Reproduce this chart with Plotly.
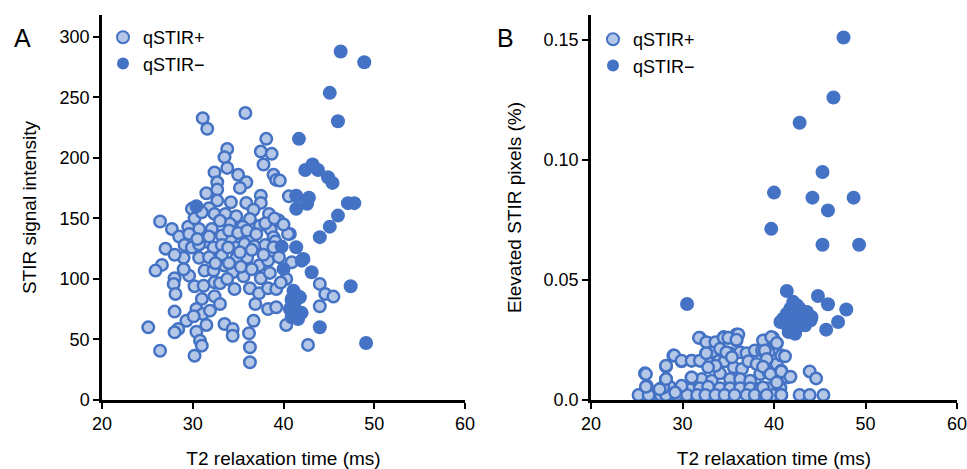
import plotly.graph_objects as go

# ---------------- Panel A data ----------------
a_pos_t2 = [31.1, 31.6, 35.8, 38.1, 37.5, 38.7, 33.8, 33.5, 37.8, 33.8, 32.4, 35.0, 35.9, 35.2, 38.9, 39.2,
            32.7, 32.7, 31.5, 37.5, 40.6, 29.9, 32.7, 34.2, 35.9, 37.5, 31.8, 32.4, 33.6, 34.8, 36.7, 38.4,
            39.5, 36.3, 34.1, 30.7, 29.5, 27.7, 26.4, 28.5, 29.6, 32.1, 35.5, 37.4, 38.6, 40.7, 34.2, 31.5,
            33.2, 36.3, 38.9,
            29.1, 29.9, 30.7, 32.3, 33.2, 34.8, 35.7, 36.8, 38.0, 39.1,
            29.0, 26.6, 30.7, 31.8, 33.2, 33.5, 34.8, 36.0, 37.3, 38.3, 38.9, 40.9, 40.3, 40.3, 40.9, 31.3,
            32.3, 29.6, 28.0, 27.9, 28.1, 30.2, 31.2, 32.4, 33.0, 34.4, 35.6, 34.6, 36.3, 37.3, 38.3, 39.2,
            37.5, 31.0, 32.4, 33.0, 36.9, 38.3, 39.2, 30.4, 31.1, 31.9, 28.0, 29.3, 30.1, 31.5, 28.4, 30.4,
            30.8, 31.0, 33.5, 34.4, 34.4, 36.7, 36.2, 36.3, 36.3, 30.2, 26.4, 42.7,
            25.9, 25.1, 28.0, 44.0, 44.6, 45.5, 44.0, 40.5, 39.6,
            30.2, 31.0, 33.0, 34.0, 35.0, 36.0, 37.0, 38.0, 39.0, 40.0, 30.5, 31.8, 33.9, 35.2, 36.5, 37.8,
            39.5, 32.5, 34.0, 35.3, 36.5, 38.5, 39.7, 33.8, 29.0, 27.0, 28.0]
a_pos_sig = [232.8, 224, 237, 215.7, 205.2, 203.3, 207.4, 200.6, 194.5, 191.7, 188, 186, 179.8, 175.2, 186, 181.8,
             179.8, 173.8, 170.8, 168.8, 168.3, 157.9, 164.7, 163.3, 162.8, 162.8, 158.4, 153.7, 153.7, 151.8, 157.2, 153.7,
             148.2, 149.6, 145.5, 141.3, 143.2, 141.3, 147.4, 135, 137.2, 141.3, 143.2, 144, 140.7, 137.2, 133.6, 130.8,
             135.8, 131.6, 134.5,
             128, 126, 128.5, 126, 128, 126, 129, 127, 128, 131,
             117.4, 111.6, 117.4, 117.9, 119.3, 111, 117.1, 117.4, 111, 115.1, 126.2, 113.8, 100, 62, 82.1, 106.9,
             106.9, 102.7, 100.6, 95.9, 87.6, 94, 94.4, 97.3, 96.4, 105.5, 102.2, 91.7, 92.3, 88.2, 92.3, 91.7,
             100.6, 83.5, 85.7, 79.3, 79.3, 75.2, 76.6, 75.2, 71.1, 73.8, 73, 65.5, 69.2, 62, 58.7, 56.4,
             49, 44.9, 62.8, 58.7, 53.1, 65.5, 55.1, 43.6, 31.2, 36.6, 40.7, 45.5,
             106.9, 60, 55.9, 95.9, 87.6, 85.4, 77.4, 137.2, 181.2,
             150, 155, 148, 140, 138, 140, 137, 146, 150, 145, 133, 135, 126, 122, 124, 120,
             118, 113, 113, 110, 108, 105, 97, 100, 108, 125, 120]

a_neg_t2 = [30.4, 41.7, 42.4, 43.2, 43.8, 44.9, 45.4, 41.4, 42.8, 42.6, 41.4, 47.1, 47.8, 46.0, 45.1, 44.0,
            41.4, 39.8, 42.0, 43.1, 40.0, 42.2, 41.1, 41.8, 40.9, 40.7, 40.9, 41.6, 41.6, 47.4, 44.0, 49.1,
            46.3, 48.9, 45.1, 46.0, 42.5, 41.2, 42.0]
a_neg_sig = [160, 215.7, 190, 194.5, 190, 184, 179.3, 168.8, 167, 162, 157.9, 162.6, 162.6, 152.3, 143.2, 134.5,
             126.2, 126.7, 115.1, 105.5, 108.3, 116.5, 90.3, 84.9, 83.5, 75.2, 68.3, 66.9, 85.7, 94, 60.1, 47.1,
             287.9, 279, 253.7, 230.3, 163.3, 80, 72]

# ---------------- Panel B data ----------------
b_pos_t2 = [31.9, 32.8, 33.7, 34.5, 35.0, 35.9, 35.9, 34.1, 33.2, 32.6, 35.2, 36.3, 37.0, 37.9, 38.7, 39.0,
            39.9, 40.3, 39.4, 40.8, 29.0, 29.9, 31.0, 31.9, 33.0, 33.9, 34.6, 35.6, 36.5, 37.2, 38.1, 39.2,
            40.3, 28.2, 25.9, 28.2, 31.0, 32.1, 33.2, 34.1, 35.2, 36.3, 37.4, 38.5, 39.4, 40.8, 41.4, 40.3,
            26.1, 27.7, 28.6, 29.9, 30.8, 31.9, 32.8, 34.1, 35.2, 36.3, 37.4, 38.5, 39.4, 40.7,
            25.4, 26.5, 27.6, 28.3, 29.4, 30.5, 31.6, 32.5, 33.6, 34.6, 35.7, 37.0, 37.9, 39.0, 39.9, 40.8,
            25.2, 26.3, 26.0, 26.0, 28.2, 27.9, 28.2, 28.2, 29.1, 29.9, 31.0, 31.8, 31.9, 32.6, 32.6, 33.6,
            34.5, 35.0, 36.1, 35.9, 34.1, 34.8, 35.4, 33.6, 32.8, 31.0, 29.9, 29.2, 27.5,
            38.8, 39.7, 40.3, 39.0, 39.2, 40.8, 41.2, 38.8, 39.6, 40.8, 41.8, 40.3, 43.9, 44.6, 38.8,
            39.2, 40.8, 42.8, 43.9, 45.4]
b_pos_pix = [0.0259, 0.0237, 0.0237, 0.0262, 0.0259, 0.0273, 0.0248, 0.0213, 0.0199, 0.0195, 0.0195, 0.0199, 0.0195, 0.0206, 0.0206, 0.0248,
             0.0259, 0.0237, 0.0199, 0.0185, 0.0185, 0.0161, 0.0164, 0.0164, 0.0153, 0.0161, 0.0161, 0.0136, 0.0129, 0.0161, 0.0150, 0.0167,
             0.0150, 0.0139, 0.0111, 0.0087, 0.0094, 0.0087, 0.0080, 0.0111, 0.0087, 0.0087, 0.0080, 0.0108, 0.0115, 0.0122, 0.0094, 0.0080,
             0.0059, 0.0049, 0.0055, 0.0055, 0.0045, 0.0049, 0.0055, 0.0049, 0.0049, 0.0049, 0.0049, 0.0049, 0.0049, 0.0049,
             0.0021, 0.0021, 0.0021, 0.0021, 0.0021, 0.0021, 0.0021, 0.0021, 0.0021, 0.0021, 0.0021, 0.0021, 0.0021, 0.0021, 0.0021, 0.0021,
             0.0021, 0.0021, 0.0055, 0.0108, 0.0021, 0.0052, 0.0087, 0.0143, 0.0185, 0.0164, 0.0164, 0.0259, 0.0164, 0.0241, 0.0195, 0.0241,
             0.0259, 0.0259, 0.0273, 0.0251, 0.0213, 0.0199, 0.0178, 0.0143, 0.0136, 0.0094, 0.0059, 0.0031, 0.0045,
             0.0248, 0.0262, 0.0237, 0.0206, 0.0171, 0.0185, 0.0182, 0.0139, 0.0108, 0.0119, 0.0097, 0.0073, 0.0119, 0.0090, 0.0052,
             0.0021, 0.0021, 0.0021, 0.0021, 0.0021]

b_neg_t2 = [47.6, 46.5, 42.8, 45.3, 40.0, 44.2, 48.7, 45.9, 39.7, 45.3, 49.3, 30.5,
            42.1, 42.5, 41.8, 42.8, 41.4, 43.6, 44.1, 40.7, 41.2, 42.1, 43.0, 41.8, 42.5, 43.4, 44.0, 41.9,
            42.7, 41.0, 43.2, 41.6, 42.3, 41.4, 44.8, 45.9, 47.9, 47.0, 45.7]
b_neg_pix = [0.151, 0.126, 0.1155, 0.095, 0.0864, 0.0843, 0.0843, 0.079, 0.0713, 0.0647, 0.0647, 0.040,
             0.0409, 0.0395, 0.0381, 0.0381, 0.0360, 0.0367, 0.0346, 0.0325, 0.0318, 0.0332, 0.0332, 0.0297, 0.0301, 0.0311, 0.0332, 0.0353,
             0.0353, 0.0339, 0.0353, 0.0283, 0.0276, 0.0454, 0.0433, 0.0399, 0.0377, 0.0325, 0.0293]

a_yticks = [0, 50, 100, 150, 200, 250, 300]
b_yticks = [0, 0.05, 0.10, 0.15]
b_yticklabels = ["0.0", "0.05", "0.10", "0.15"]
x_ticks = [20, 30, 40, 50, 60]

BLUE = "#4472c4"
LIGHT = "#b4c7e7"
FONT = "Liberation Sans"

W, H = 967, 469
PT, PB = 15, 400          # plot area top / bottom (px)


def px_x(p):
    return p / W


def px_y(p):
    return (PB - p) / (PB - PT)


pos_marker = dict(size=11.5, color=LIGHT, line=dict(color=BLUE, width=2.5))
neg_marker = dict(size=14, color=BLUE, line=dict(color=BLUE, width=0))

fig = go.Figure()
fig.add_trace(go.Scatter(x=a_pos_t2, y=a_pos_sig, mode="markers", name="qSTIR+", marker=pos_marker,
                         xaxis="x", yaxis="y", legend="legend", cliponaxis=False))
fig.add_trace(go.Scatter(x=a_neg_t2, y=a_neg_sig, mode="markers", name="qSTIR\u2212", marker=neg_marker,
                         xaxis="x", yaxis="y", legend="legend", cliponaxis=False))
fig.add_trace(go.Scatter(x=b_pos_t2, y=b_pos_pix, mode="markers", name="qSTIR+", marker=pos_marker,
                         xaxis="x2", yaxis="y2", legend="legend2", cliponaxis=False))
fig.add_trace(go.Scatter(x=b_neg_t2, y=b_neg_pix, mode="markers", name="qSTIR\u2212", marker=neg_marker,
                         xaxis="x2", yaxis="y2", legend="legend2", cliponaxis=False))

axis_common = dict(showline=True, linecolor="black", linewidth=2.5, ticks="outside", ticklen=6,
                   tickwidth=2, tickcolor="black", showgrid=False, zeroline=False, automargin=False,
                   ticklabeloverflow="allow",
                   tickfont=dict(family=FONT, size=18, color="black"))
TITLE_FONT = dict(family=FONT, size=19, color="black")

fig.update_layout(
    template="none",
    width=W, height=H,
    margin=dict(l=0, r=0, t=PT, b=H - PB, pad=0),
    paper_bgcolor="white", plot_bgcolor="white",
    font=dict(family=FONT, size=18, color="black"),
    xaxis=dict(domain=[px_x(102), px_x(465)], range=[20, 60.0001], tickvals=x_ticks, anchor="y",
               title=dict(text="T2 relaxation time (ms)", font=TITLE_FONT), **axis_common),
    yaxis=dict(domain=[0, 1], range=[0, 318], tickvals=a_yticks, anchor="x",
               title=dict(text="STIR signal intensity", font=TITLE_FONT, standoff=18), **axis_common),
    xaxis2=dict(domain=[px_x(591), px_x(957)], range=[20, 60.0001], tickvals=x_ticks, anchor="y2",
                title=dict(text="T2 relaxation time (ms)", font=TITLE_FONT), **axis_common),
    yaxis2=dict(domain=[0, 1], range=[0, 0.1604], tickvals=b_yticks, ticktext=b_yticklabels, anchor="x2",
                title=dict(text="Elevated STIR pixels (%)", font=TITLE_FONT, standoff=17), **axis_common),
    legend=dict(x=px_x(103), y=px_y(19), xanchor="left", yanchor="top", bgcolor="rgba(0,0,0,0)",
                font=dict(family=FONT, size=18), itemsizing="constant", tracegroupgap=0),
    legend2=dict(x=px_x(593), y=px_y(21), xanchor="left", yanchor="top", bgcolor="rgba(0,0,0,0)",
                 font=dict(family=FONT, size=18), itemsizing="constant", tracegroupgap=0),
    annotations=[
        dict(text="A", x=px_x(22), y=px_y(38), xref="paper", yref="paper", showarrow=False,
             xanchor="center", yanchor="middle", font=dict(family=FONT, size=25)),
        dict(text="B", x=px_x(505), y=px_y(38), xref="paper", yref="paper", showarrow=False,
             xanchor="center", yanchor="middle", font=dict(family=FONT, size=25)),
    ],
)

fig.write_html("out.html", config={"displayModeBar": False},
               post_script="document.body.style.margin='0';document.body.style.overflow='hidden';")
